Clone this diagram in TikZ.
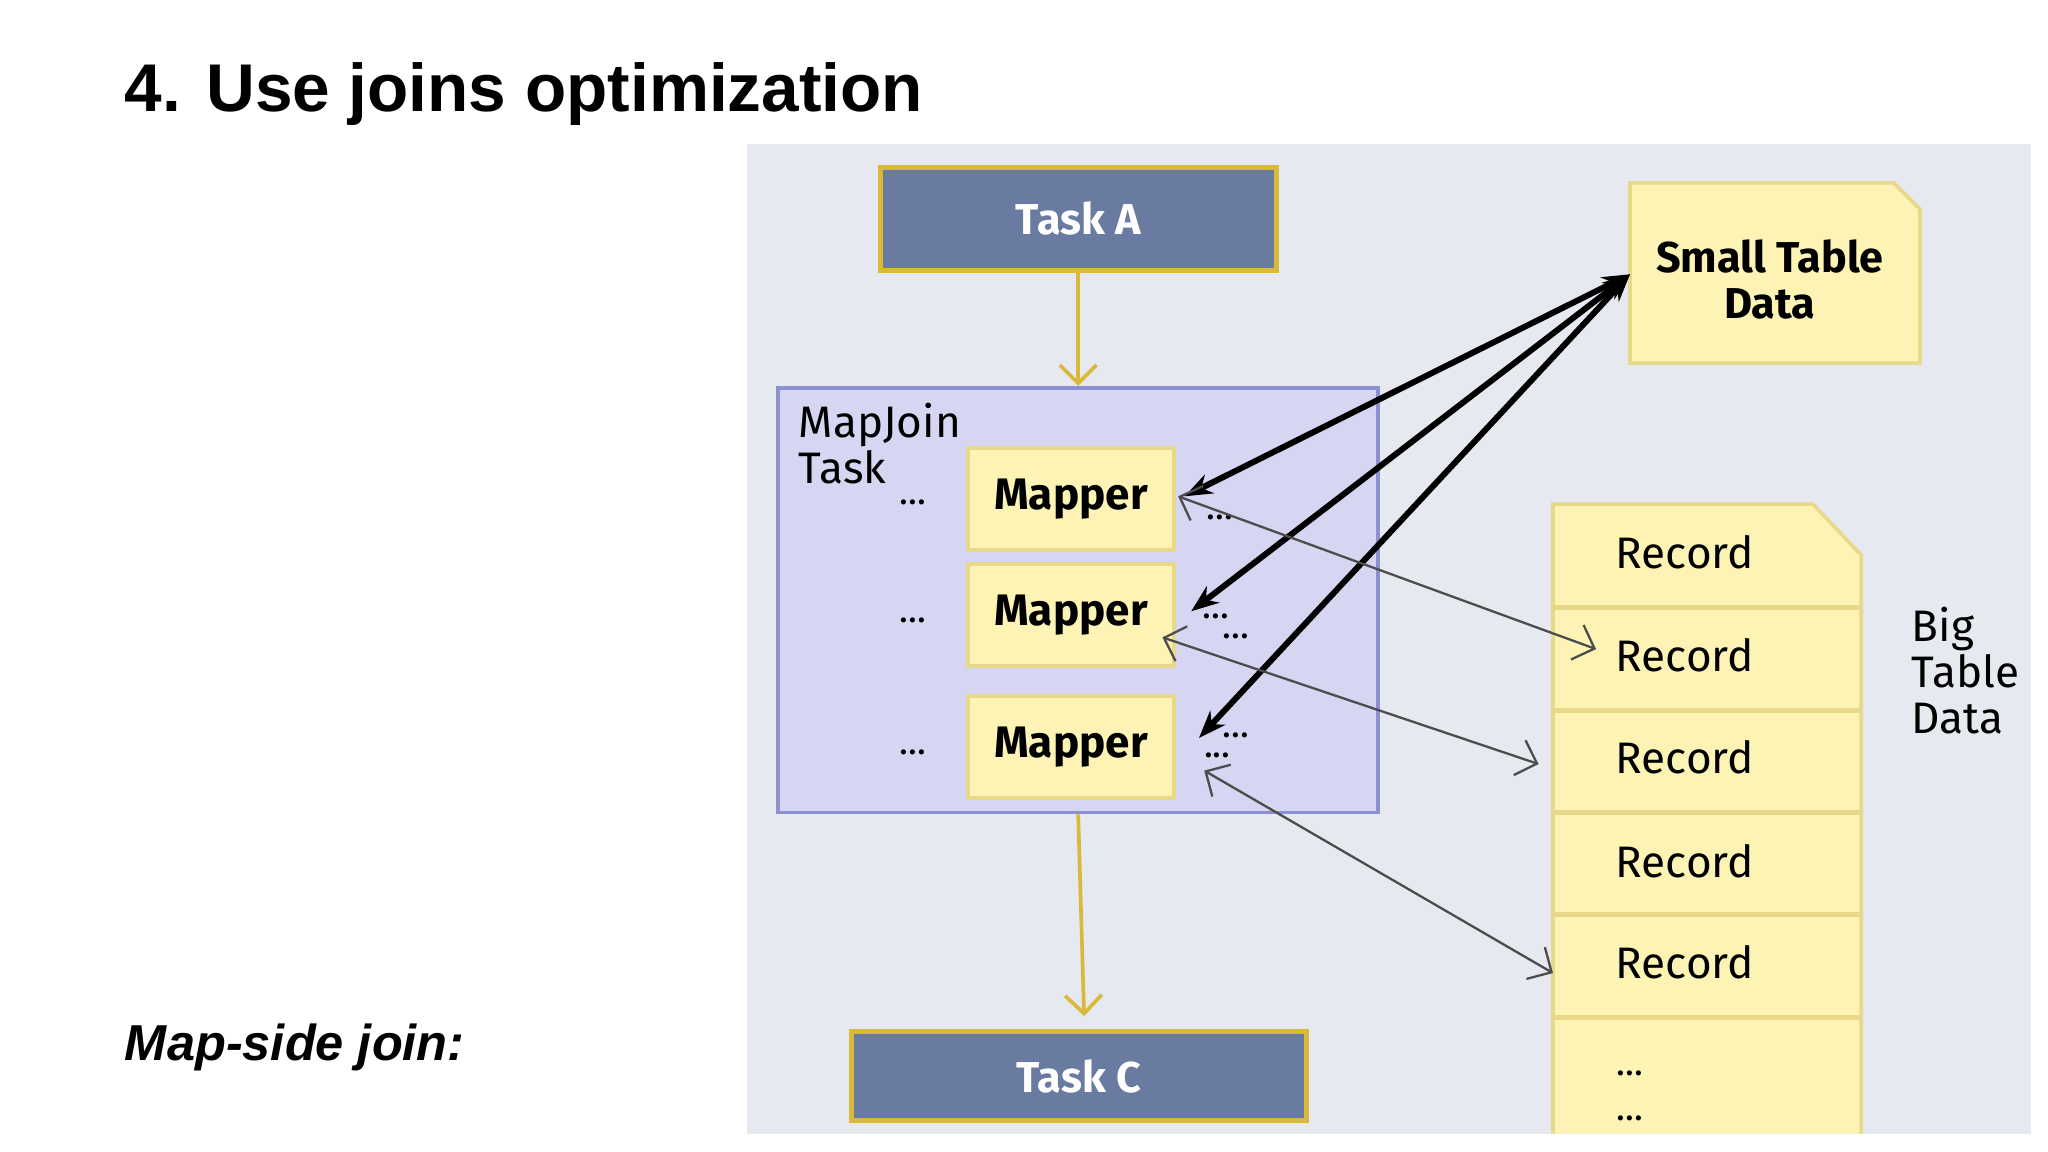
\documentclass[tikz,border=0pt]{standalone}
\usepackage{fontspec}
\setmainfont{Fira Sans}
\newfontfamily\titlefont{Liberation Sans}
\usetikzlibrary{arrows.meta}
\definecolor{panel}{HTML}{E6E9EF}
\definecolor{taskfill}{HTML}{6A7BA2}
\definecolor{gold}{HTML}{D9B93A}
\definecolor{paper}{HTML}{FCF3B5}
\definecolor{paperedge}{HTML}{E8D98A}
\definecolor{mjfill}{HTML}{D6D5F2}
\definecolor{mjedge}{HTML}{8C8FD0}
\tikzset{
 taskbox/.style={draw=gold,line width=1.1pt,fill=taskfill,text=white,font=\fontsize{9.4}{11}\selectfont\bfseries},
 mapperbox/.style={draw=paperedge,line width=0.8pt,fill=paper,font=\fontsize{9.6}{11}\selectfont\bfseries,minimum width=1.58cm,minimum height=0.78cm},
 rec/.style={font=\fontsize{9.6}{11}\selectfont},
 thick arrow/.style={line width=1.3pt,{Stealth[length=6pt]}-{Stealth[length=6pt]}},
 thin arrow/.style={draw=black!70,line width=0.5pt,{Straight Barb[length=4pt]}-{Straight Barb[length=4pt]}},
 gold arrow/.style={draw=gold,line width=0.8pt,-{Straight Barb[length=4pt]}},
 dots/.style={font=\fontsize{8}{9}\selectfont,inner sep=0pt}
}
\begin{document}
\begin{tikzpicture}[x=0.01cm,y=-0.01cm]
\useasboundingbox (0,0) rectangle (1568,882);
\fill[white] (0,0) rectangle (1568,882);
\node[anchor=west,inner sep=0pt,font=\titlefont\fontsize{14.7}{17}\selectfont\bfseries] (title) at (95,72) {4. Use joins optimization};
\node[anchor=west,inner sep=0pt,font=\titlefont\fontsize{11}{14}\selectfont\bfseries\itshape] (msj) at (95,802) {Map-side join:};
\fill[panel] (572,110) rectangle (1555,868);
% Task A
\node[taskbox,minimum width=3.03cm,minimum height=0.79cm] (taskA) at (825.5,167.5) {Task A};
\node[taskbox,minimum width=3.48cm,minimum height=0.68cm] (taskC) at (826,824) {Task C};
% MapJoin
\node[draw=mjedge,fill=mjfill,line width=0.8pt,minimum width=4.59cm,minimum height=3.25cm] (mj) at (825.5,459.5) {};
\node[anchor=north west,align=left,font=\fontsize{9.6}{10}\selectfont,inner sep=0pt] (mjl) at (611,308) {MapJoin\\Task};
\node[mapperbox] (m1) at (820,382) {Mapper};
\node[mapperbox] (m2) at (820,471) {Mapper};
\node[mapperbox] (m3) at (820,572) {Mapper};
\node[dots] (d1) at (699,385) {...};
\node[dots] (d2) at (699,475) {...};
\node[dots] (d3) at (699,576) {...};
\node[dots] (e1) at (934,396) {...};
\node[dots] (e2) at (931,472) {...};
\node[dots] (e2b) at (946,487) {...};
\node[dots] (e3) at (946,563) {...};
\node[dots] (e3b) at (932,578) {...};
% small table
\draw[paperedge,fill=paper,line width=0.8pt] (1248,140) -- (1450,140) -- (1470,160) -- (1470,278) -- (1248,278) -- cycle;
\node[align=center,font=\fontsize{9.4}{10.2}\selectfont\bfseries] (small) at (1355,214) {Small Table\\Data};
\coordinate (sp) at (1248,210);
% big table
\draw[paperedge,fill=paper,line width=0.8pt] (1189,868) -- (1189,386) -- (1388,386) -- (1425,425) -- (1425,868);
\foreach \y in {465,544,622,700,779} \draw[paperedge,line width=1pt] (1189,\y) -- (1425,\y);
\node[rec] (r1) at (1290,423) {Record};
\node[rec] (r2) at (1290,502) {Record};
\node[rec] (r3) at (1290,580) {Record};
\node[rec] (r4) at (1290,659) {Record};
\node[rec] (r5) at (1290,737) {Record};
\node[dots] (r6) at (1248,822) {...};
\node[dots] (r7) at (1248,856) {...};
\node[anchor=north west,align=left,font=\fontsize{9.6}{10}\selectfont,inner sep=0pt] (big) at (1463,464) {Big\\Table\\Data};
% arrows
\coordinate (c1) at (830,778);
\draw[gold arrow] (taskA.south) -- (mj.north);
\draw[gold arrow] (mj.south) -- (c1);
\draw[thick arrow] (sp) -- (907,380);
\draw[thick arrow] (sp) -- (912,468);
\draw[thick arrow] (sp) -- (918,565);
\coordinate (t1) at (1222,497);
\coordinate (t2) at (1178,585);
\coordinate (t3) at (1189,745);
\draw[thin arrow] (902,380) -- (t1);
\draw[thin arrow] (890,488) -- (t2);
\draw[thin arrow] (922,590) -- (t3);
\end{tikzpicture}
\end{document}
